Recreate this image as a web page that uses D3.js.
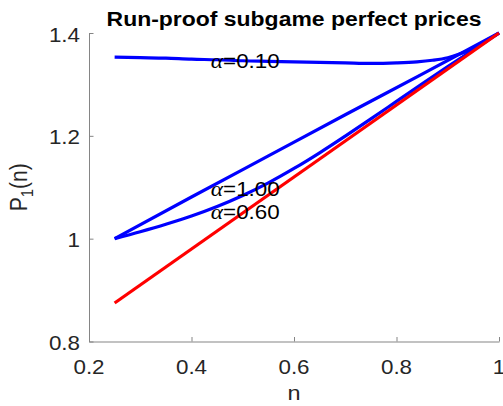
<!DOCTYPE html>
<html>
<head>
<meta charset="utf-8">
<script src="https://cdn.jsdelivr.net/npm/d3@7"></script>
<style>
  html, body { margin: 0; padding: 0; background: #fff; }
  svg { display: block; }
</style>
</head>
<body>
<svg id="chart" width="503" height="406"></svg>
<script>
// Price paths P1(n) for three values of alpha, plus the reference line
const alpha010N = [0.25, 0.30, 0.35, 0.40, 0.45, 0.50, 0.55, 0.60, 0.65, 0.70, 0.75, 0.80, 0.84, 0.87, 0.90, 0.92, 0.94, 0.96, 0.98, 1.00];
const alpha010P = [1.353, 1.352, 1.351, 1.349, 1.348, 1.346, 1.345, 1.344, 1.343, 1.342, 1.341, 1.342, 1.344, 1.347, 1.352, 1.358, 1.366, 1.377, 1.388, 1.400];

const alpha100N = [0.25, 0.40, 0.55, 0.70, 0.85, 1.00];
const alpha100P = [1.000, 1.081, 1.161, 1.241, 1.320, 1.400];

const alpha060N = [0.25, 0.30, 0.35, 0.40, 0.45, 0.50, 0.55, 0.60, 0.65, 0.70, 0.75, 0.80, 0.85, 0.90, 0.95, 1.00];
const alpha060P = [1.000, 1.0135, 1.028, 1.044, 1.0625, 1.084, 1.1085, 1.1365, 1.167, 1.1995, 1.233, 1.267, 1.301, 1.3345, 1.3675, 1.400];

const lineN = [0.25, 1.00];
const lineP = [0.875, 1.400];

const labelTexts = ["=0.10", "=1.00", "=0.60"];
const labelN = [0.4375, 0.4375, 0.4375];
const labelP = [1.345, 1.097, 1.052];

const xTicks = [0.2, 0.4, 0.6, 0.8, 1.0];
const xTickLabels = ["0.2", "0.4", "0.6", "0.8", "1"];
const yTicks = [0.8, 1.0, 1.2, 1.4];
const yTickLabels = ["0.8", "1", "1.2", "1.4"];

const titleText = "Run-proof subgame perfect prices";
const xLabel = "n";

const svg = d3.select("#chart");
const x = d3.scaleLinear().domain([0.2, 1.0]).range([89, 499]);
const y = d3.scaleLinear().domain([0.8, 1.4]).range([341.5, 33]);

const sans = "'Liberation Sans', Arial, Helvetica, sans-serif";
const serif = "'Liberation Serif', 'Times New Roman', serif";
const sx = 1.12; // horizontal stretch of the text glyphs
const axisColor = "#858585";
const textColor = "#262626";

// axes (inward ticks, no box)
svg.append("g")
  .attr("transform", `translate(0,${y(0.8)})`)
  .attr("color", axisColor)
  .call(d3.axisBottom(x).tickValues(xTicks).tickSizeInner(-4.5).tickSizeOuter(0).tickFormat(""));
svg.append("g")
  .attr("transform", `translate(${x(0.2)},0)`)
  .attr("color", axisColor)
  .call(d3.axisLeft(y).tickValues(yTicks).tickSizeInner(-4.5).tickSizeOuter(0).tickFormat(""));
svg.selectAll(".domain, .tick line").attr("stroke-width", 1);

function stretched(g, px, py, anchor) {
  return g.append("text")
    .attr("transform", `translate(${px},${py}) scale(${sx},1)`)
    .attr("text-anchor", anchor);
}

// tick labels
xTicks.forEach((v, i) => {
  stretched(svg, x(v), y(0.8) + 32, "middle")
    .attr("font-family", sans).attr("font-size", 20).attr("fill", textColor)
    .text(xTickLabels[i]);
});
yTicks.forEach((v, i) => {
  stretched(svg, x(0.2) - 9, y(v) + 8.5, "end")
    .attr("font-family", sans).attr("font-size", 20).attr("fill", textColor)
    .text(yTickLabels[i]);
});

// axis labels and title
stretched(svg, (x(0.2) + x(1.0)) / 2, 400, "middle")
  .attr("font-family", sans).attr("font-size", 21).attr("fill", textColor)
  .text(xLabel);

const yl = svg.append("text")
  .attr("transform", `translate(27,${(y(0.8) + y(1.4)) / 2}) rotate(-90) scale(1,${sx})`)
  .attr("text-anchor", "middle")
  .attr("font-family", sans).attr("font-size", 21).attr("fill", textColor);
yl.append("tspan").text("P");
yl.append("tspan").attr("font-size", 15).attr("dy", 5).text("1");
yl.append("tspan").attr("dy", -5).text("(n)");

stretched(svg, (x(0.2) + x(1.0)) / 2, 25.5, "middle")
  .attr("font-family", sans).attr("font-size", 20.5).attr("font-weight", "bold").attr("fill", "#000")
  .text(titleText);

// curves
const line = d3.line().x(d => x(d[0])).y(d => y(d[1])).curve(d3.curveMonotoneX);
const series = [
  { n: alpha010N, p: alpha010P, color: "#0000ff" },
  { n: alpha100N, p: alpha100P, color: "#0000ff" },
  { n: alpha060N, p: alpha060P, color: "#0000ff" },
  { n: lineN, p: lineP, color: "#ff0000" }
];
series.forEach(s => {
  svg.append("path")
    .datum(s.n.map((v, i) => [v, s.p[i]]))
    .attr("d", line)
    .attr("fill", "none")
    .attr("stroke", s.color)
    .attr("stroke-width", 3.2)
    .attr("stroke-linejoin", "round");
});

// alpha annotations
labelTexts.forEach((t, i) => {
  const tx = stretched(svg, x(labelN[i]), y(labelP[i]) + 7, "start")
    .attr("font-family", sans).attr("font-size", 20).attr("fill", "#000");
  tx.append("tspan").attr("font-family", serif).attr("font-style", "italic").attr("font-size", 21).text("α");
  tx.append("tspan").text(t);
});
</script>
</body>
</html>
